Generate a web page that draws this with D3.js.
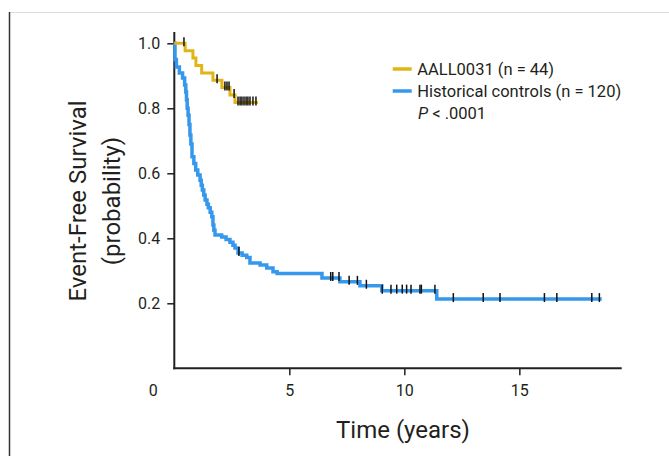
<!DOCTYPE html>
<html>
<head>
<meta charset="utf-8">
<script src="https://cdn.jsdelivr.net/npm/d3@7"></script>
<style>
  body { margin: 0; background: #fff; }
  svg text { font-family: Roboto, "Liberation Sans", Arial, sans-serif; fill: #231f20; }
</style>
</head>
<body>
<div id="chart"></div>
<script>
// series labels
const seriesNames = ["AALL0031 (n = 44)", "Historical controls (n = 120)"];
const seriesColors = ["#e2b516", "#3598ec"];

// AALL0031: time (years) at which survival drops to the given value
const aallTimes = [0, 0.47, 0.81, 0.94, 1.19, 1.68, 2.07, 2.42, 2.64];
const aallSurv = [1.0, 0.977, 0.955, 0.932, 0.909, 0.886, 0.864, 0.841, 0.818];
const aallEnd = 3.64;
const aallCensor = [0.42, 1.86, 2.2, 2.29, 2.38, 2.6, 2.77, 2.86, 2.94, 3.03, 3.12, 3.2, 3.29, 3.42, 3.55];

// historical controls
const histTimes = [0, 0.03, 0.09, 0.22, 0.36, 0.45, 0.5, 0.53, 0.56, 0.6, 0.64, 0.68, 0.72, 0.77, 0.85, 0.93,
  1.02, 1.12, 1.17, 1.22, 1.28, 1.34, 1.42, 1.48, 1.56, 1.63, 1.68, 1.72, 1.77, 2.06, 2.25, 2.42, 2.55, 2.64,
  2.77, 2.95, 3.15, 3.29, 3.73, 4.02, 4.29, 4.47, 6.42, 7.2, 8.07, 9.02, 11.41];
const histSurv = [1.0, 0.95, 0.927, 0.909, 0.893, 0.872, 0.85, 0.826, 0.8, 0.779, 0.75, 0.718, 0.69, 0.651, 0.63, 0.61,
  0.595, 0.579, 0.563, 0.549, 0.533, 0.518, 0.505, 0.494, 0.48, 0.466, 0.441, 0.425, 0.41, 0.404, 0.396, 0.388, 0.379, 0.37,
  0.355, 0.348, 0.341, 0.324, 0.318, 0.309, 0.297, 0.292, 0.278, 0.266, 0.254, 0.239, 0.213];
const histEnd = 18.58;
const histCensor = [2.81, 6.8, 6.89, 7.16, 7.6, 7.96, 8.35, 9.04, 9.42, 9.67, 9.91, 10.1, 10.29, 10.68, 10.74,
  11.33, 12.13, 13.43, 14.16, 16.09, 16.63, 18.15, 18.48];

const xTicks = [5, 10, 15];
const yTicks = [0.2, 0.4, 0.6, 0.8, 1.0];

document.addEventListener("DOMContentLoaded", function() {

  let svgWidth = 669,
      svgHeight = 456;

  let svg = d3.select("#chart")
              .append("svg")
              .attr("width", svgWidth)
              .attr("height", svgHeight);

  // frame lines of the page crop
  svg.append("line")
    .attr("x1", 10).attr("x2", svgWidth).attr("y1", 12.5).attr("y2", 12.5)
    .attr("stroke", "#dcdcdc").attr("stroke-width", 1);
  svg.append("line")
    .attr("x1", 9.5).attr("x2", 9.5).attr("y1", 12).attr("y2", svgHeight)
    .attr("stroke", "#333").attr("stroke-width", 1.5);

  let x = d3.scaleLinear().domain([0, 19.45]).range([174.3, 621.7]);
  let y = d3.scaleLinear().domain([0, 1]).range([368.3, 43.3]);

  // axes
  let yAxis = svg.append("g")
    .attr("transform", `translate(${x(0)},0)`)
    .call(d3.axisLeft(y).tickValues(yTicks).tickFormat(d3.format(".1f")).tickSize(7).tickPadding(7));
  let xAxis = svg.append("g")
    .attr("transform", `translate(0,${y(0)})`)
    .call(d3.axisBottom(x).tickValues(xTicks).tickSize(7).tickPadding(9));

  [xAxis, yAxis].forEach(function(g) {
    g.select(".domain").remove();
    g.selectAll(".tick line").attr("stroke", "#231f20").attr("stroke-width", 1.5);
    g.selectAll(".tick text")
      .attr("font-family", "Roboto, 'Liberation Sans', Arial, sans-serif")
      .attr("font-size", "16px")
      .attr("fill", "#231f20");
  });

  svg.append("text")
    .attr("x", x(0) - 21)
    .attr("y", y(0) + 16)
    .attr("dy", "0.71em")
    .attr("text-anchor", "middle")
    .attr("font-size", "16px")
    .text("0");

  svg.append("line")
    .attr("x1", x(0)).attr("x2", x(0))
    .attr("y1", y(1.035)).attr("y2", y(0) + 1)
    .attr("stroke", "#231f20").attr("stroke-width", 2);
  svg.append("line")
    .attr("x1", x(0) - 1).attr("x2", x.range()[1])
    .attr("y1", y(0)).attr("y2", y(0))
    .attr("stroke", "#231f20").attr("stroke-width", 2);

  // axis titles
  svg.append("text")
    .attr("transform", "translate(78,201) rotate(-90)")
    .attr("text-anchor", "middle")
    .attr("dy", "0.35em")
    .attr("font-size", "24px")
    .text("Event-Free Survival");
  svg.append("text")
    .attr("transform", "translate(112,201) rotate(-90)")
    .attr("text-anchor", "middle")
    .attr("dy", "0.35em")
    .attr("font-size", "24px")
    .text("(probability)");
  svg.append("text")
    .attr("x", 403)
    .attr("y", 438)
    .attr("text-anchor", "middle")
    .attr("font-size", "24px")
    .text("Time (years)");

  function makeSeries(times, surv, end) {
    let pts = times.map(function(t, i) { return [t, surv[i]]; });
    pts.push([end, surv[surv.length - 1]]);
    return pts;
  }

  function survAt(times, surv, t) {
    let i = d3.bisectRight(times, t) - 1;
    return surv[Math.max(i, 0)];
  }

  let line = d3.line()
    .x(function(d) { return x(d[0]); })
    .y(function(d) { return y(d[1]); })
    .curve(d3.curveStepAfter);

  let groups = [
    { times: histTimes, surv: histSurv, end: histEnd, censor: histCensor, color: seriesColors[1], width: 3.5 },
    { times: aallTimes, surv: aallSurv, end: aallEnd, censor: aallCensor, color: seriesColors[0], width: 3 }
  ];

  groups.forEach(function(s) {
    svg.append("path")
      .datum(makeSeries(s.times, s.surv, s.end))
      .attr("fill", "none")
      .attr("stroke", s.color)
      .attr("stroke-width", s.width)
      .attr("d", line);
  });

  groups.forEach(function(s) {
    svg.append("g")
      .selectAll("line")
      .data(s.censor)
      .enter().append("line")
        .attr("x1", function(d) { return x(d); })
        .attr("x2", function(d) { return x(d); })
        .attr("y1", function(d) { return y(survAt(s.times, s.surv, d)) - 6; })
        .attr("y2", function(d) { return y(survAt(s.times, s.surv, d)) + 3; })
        .attr("stroke", "#111")
        .attr("stroke-width", 1.5);
  });

  // legend
  let legend = svg.append("g");
  seriesNames.forEach(function(name, i) {
    let ly = 69 + i * 22;
    legend.append("line")
      .attr("x1", 392.7).attr("x2", 411.7)
      .attr("y1", ly).attr("y2", ly)
      .attr("stroke", seriesColors[i])
      .attr("stroke-width", 3.5);
    legend.append("text")
      .attr("x", 417.3)
      .attr("y", ly)
      .attr("dy", "0.35em")
      .attr("font-size", "16.5px")
      .text(name);
  });
  let pText = legend.append("text")
    .attr("x", 418)
    .attr("y", 113)
    .attr("dy", "0.35em")
    .attr("font-size", "16.5px");
  pText.append("tspan").attr("font-style", "italic").text("P");
  pText.append("tspan").text(" < .0001");

});
</script>
</body>
</html>
